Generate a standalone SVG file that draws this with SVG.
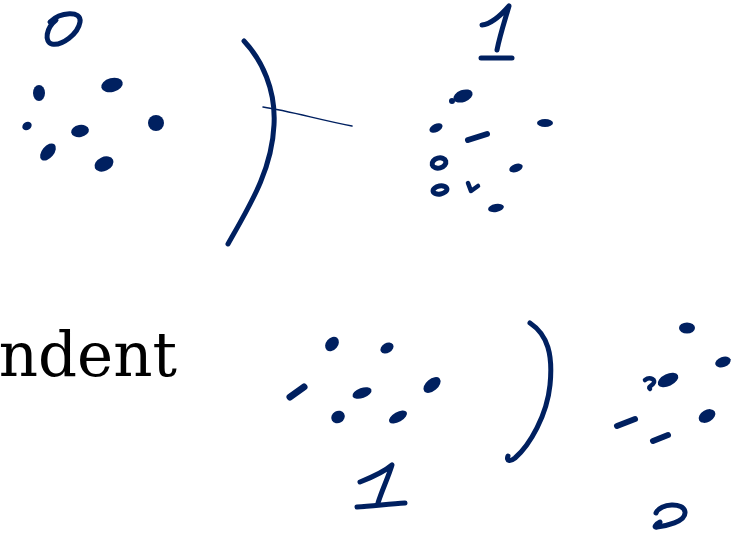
<svg xmlns="http://www.w3.org/2000/svg" width="749" height="537" viewBox="0 0 749 537">
<style>
.s{fill:none;stroke:#002060;stroke-linecap:round;stroke-linejoin:round}
.d{fill:#002060}
.t{font-family:"DejaVu Serif",serif;font-size:61px;fill:#000}
</style>
<rect width="749" height="537" fill="#fff"/>
<g id="label-0-top">
<path class="s" stroke-width="5" d="M50,22 C60,12 82,10 80,22 C78,34 62,46 52,44 C44,42 46,28 56,20"/>
</g>
<g id="cluster-left">
<ellipse class="d" cx="39" cy="93" rx="6" ry="8"/>
<ellipse class="d" cx="112" cy="85" rx="11" ry="7" transform="rotate(-15 112 85)"/>
<ellipse class="d" cx="27" cy="126" rx="5" ry="4" transform="rotate(-35 27 126)"/>
<ellipse class="d" cx="80" cy="131" rx="9" ry="6" transform="rotate(-10 80 131)"/>
<ellipse class="d" cx="156" cy="123" rx="8" ry="8"/>
<ellipse class="d" cx="48" cy="152" rx="10" ry="6" transform="rotate(-50 48 152)"/>
<ellipse class="d" cx="104" cy="164" rx="10" ry="7" transform="rotate(-25 104 164)"/>
</g>
<g id="bracket-top">
<path class="s" stroke-width="5" d="M244,41 C262,60 276,90 274,125 C272,170 250,205 228,244"/>
<path class="s" stroke-width="1.5" d="M263,107 C290,111 320,120 352,126"/>
</g>
<g id="label-1-top">
<path class="s" stroke-width="5" d="M482,25 C492,24 502,14 509,6 C505,20 500,35 497,50"/>
<path class="s" stroke-width="5" d="M481,58 L512,58"/>
</g>
<g id="cluster-top-right">
<ellipse class="d" cx="463" cy="96" rx="10" ry="6" transform="rotate(-20 463 96)"/>
<ellipse class="d" cx="452" cy="101" rx="3" ry="3"/>
<ellipse class="d" cx="436" cy="128" rx="7" ry="4" transform="rotate(-25 436 128)"/>
<path class="s" stroke-width="6" d="M468,140 L487,134"/>
<ellipse class="d" cx="545" cy="123" rx="8" ry="4"/>
<ellipse class="s" stroke-width="5" cx="439" cy="163" rx="7" ry="5" transform="rotate(-15 439 163)"/>
<ellipse class="s" stroke-width="5" cx="440" cy="190" rx="7" ry="4" transform="rotate(-10 440 190)"/>
<ellipse class="d" cx="516" cy="168" rx="7" ry="4" transform="rotate(-20 516 168)"/>
<path class="s" stroke-width="4.5" d="M468,183 L471,191 L478,186"/>
<ellipse class="d" cx="496" cy="208" rx="8" ry="4" transform="rotate(-10 496 208)"/>
</g>
<g id="text-ndent">
<text class="t" x="177" y="376" text-anchor="end">ndent</text>
</g>
<g id="cluster-bottom-middle">
<ellipse class="d" cx="332" cy="344" rx="8" ry="6" transform="rotate(-50 332 344)"/>
<ellipse class="d" cx="387" cy="348" rx="7" ry="5" transform="rotate(-30 387 348)"/>
<path class="s" stroke-width="7" d="M290,397 L304,387"/>
<ellipse class="d" cx="362" cy="393" rx="10" ry="5" transform="rotate(-20 362 393)"/>
<ellipse class="d" cx="432" cy="385" rx="10" ry="6" transform="rotate(-40 432 385)"/>
<ellipse class="d" cx="338" cy="417" rx="7" ry="6" transform="rotate(-30 338 417)"/>
<ellipse class="d" cx="398" cy="417" rx="10" ry="5" transform="rotate(-30 398 417)"/>
</g>
<g id="label-1-bottom">
<path class="s" stroke-width="5" d="M360,482 C370,478 384,472 392,465 C388,478 382,490 378,503"/>
<path class="s" stroke-width="5" d="M357,507 C372,506 390,504 405,503"/>
</g>
<g id="bracket-bottom">
<path class="s" stroke-width="5" d="M530,323 C548,335 553,355 550,385 C547,415 530,445 515,458 C510,462 506,461 508,456"/>
</g>
<g id="cluster-bottom-right">
<ellipse class="d" cx="687" cy="328" rx="8" ry="5.5"/>
<ellipse class="d" cx="723" cy="362" rx="8" ry="5" transform="rotate(-20 723 362)"/>
<ellipse class="d" cx="668" cy="380" rx="11" ry="6" transform="rotate(-25 668 380)"/>
<path class="s" stroke-width="4.5" d="M645,380 C650,376 657,380 653,384 C650,387 648,387 650,389"/>
<path class="s" stroke-width="6" d="M617,426 L635,419"/>
<ellipse class="d" cx="707" cy="416" rx="9" ry="6" transform="rotate(-30 707 416)"/>
<path class="s" stroke-width="6" d="M653,441 L668,435"/>
</g>
<g id="label-0-bottom">
<path class="s" stroke-width="5" d="M656,513 C660,503 684,502 685,512 C686,522 665,526 657,527 C653,528 656,524 660,522"/>
</g>
</svg>
